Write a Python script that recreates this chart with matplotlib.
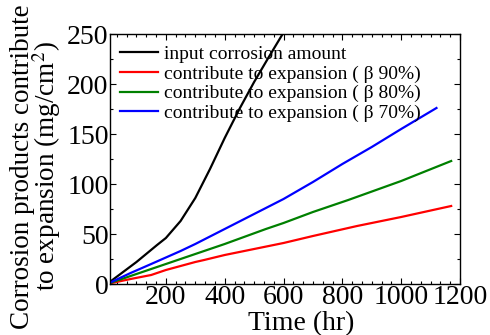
import matplotlib
matplotlib.use("Agg")
import matplotlib.pyplot as plt
from matplotlib.ticker import MultipleLocator, AutoMinorLocator

plt.rcParams['font.family'] = ['Liberation Serif', 'DejaVu Serif']
plt.rcParams['mathtext.fontset'] = 'stix'

black_t = [0, 50, 100, 170, 200, 250, 300, 350, 400, 450, 500, 550, 597]
black_v = [0, 11, 22, 39, 46, 63, 86, 115, 146, 175, 202, 227, 250]

red_t = [0, 80, 150, 200, 250, 300, 330, 400, 500, 600, 700, 850, 1000, 1170]
red_v = [0, 5, 9, 14, 18, 22, 24, 29, 35, 41, 48, 58, 67, 78]

green_t = [0, 80, 160, 250, 330, 400, 540, 600, 700, 820, 1000, 1170]
green_v = [0, 8, 16, 25, 33, 40, 55, 61, 72, 84, 103, 123]

blue_t = [0, 80, 150, 250, 300, 400, 500, 600, 700, 800, 900, 1000, 1120]
blue_v = [0, 11, 20, 33, 40, 55, 70, 85, 102, 120, 137, 155, 176]

labels = ["input corrosion amount",
          "contribute to expansion ( \u03b2 90%)",
          "contribute to expansion ( \u03b2 80%)",
          "contribute to expansion ( \u03b2 70%)"]
colors = ["black", "red", "green", "blue"]

fig = plt.figure(figsize=(4.9, 3.35), dpi=100)
ax = fig.add_axes([110/490, 1-284/335, 350/490, 250/335])

for t, v, lab, c in zip([black_t, red_t, green_t, blue_t],
                        [black_v, red_v, green_v, blue_v], labels, colors):
    ax.plot(t, v, color=c, lw=1.6, label=lab)

ax.set_xlim(10, 1200)
ax.set_ylim(0, 250)
ax.xaxis.set_major_locator(MultipleLocator(200))
ax.xaxis.set_minor_locator(AutoMinorLocator(6))
ax.yaxis.set_major_locator(MultipleLocator(50))
ax.yaxis.set_minor_locator(AutoMinorLocator(2))
ax.tick_params(which='both', direction='in', top=True, right=True, labelsize=20, width=0.8)
ax.tick_params(which='major', length=4.5, pad=1)
ax.tick_params(which='minor', length=2.5)
for s in ax.spines.values():
    s.set_linewidth(1.0)

ax.set_xlabel("Time (hr)", fontsize=20)
ax.xaxis.set_label_coords(0.546, -0.11)
ax.set_ylabel("Corrosion products contribute\nto expansion (mg/cm$^2$)", fontsize=19.5,
              linespacing=0.82, labelpad=0)
ax.yaxis.set_label_coords(-0.133, 0.47)

ax.legend(loc='upper left', frameon=False, fontsize=14, handlelength=2.0,
          handletextpad=0.3, labelspacing=0.1, borderaxespad=0.0,
          bbox_to_anchor=(0.005, 0.985))

fig.savefig("out.png", dpi=100)
